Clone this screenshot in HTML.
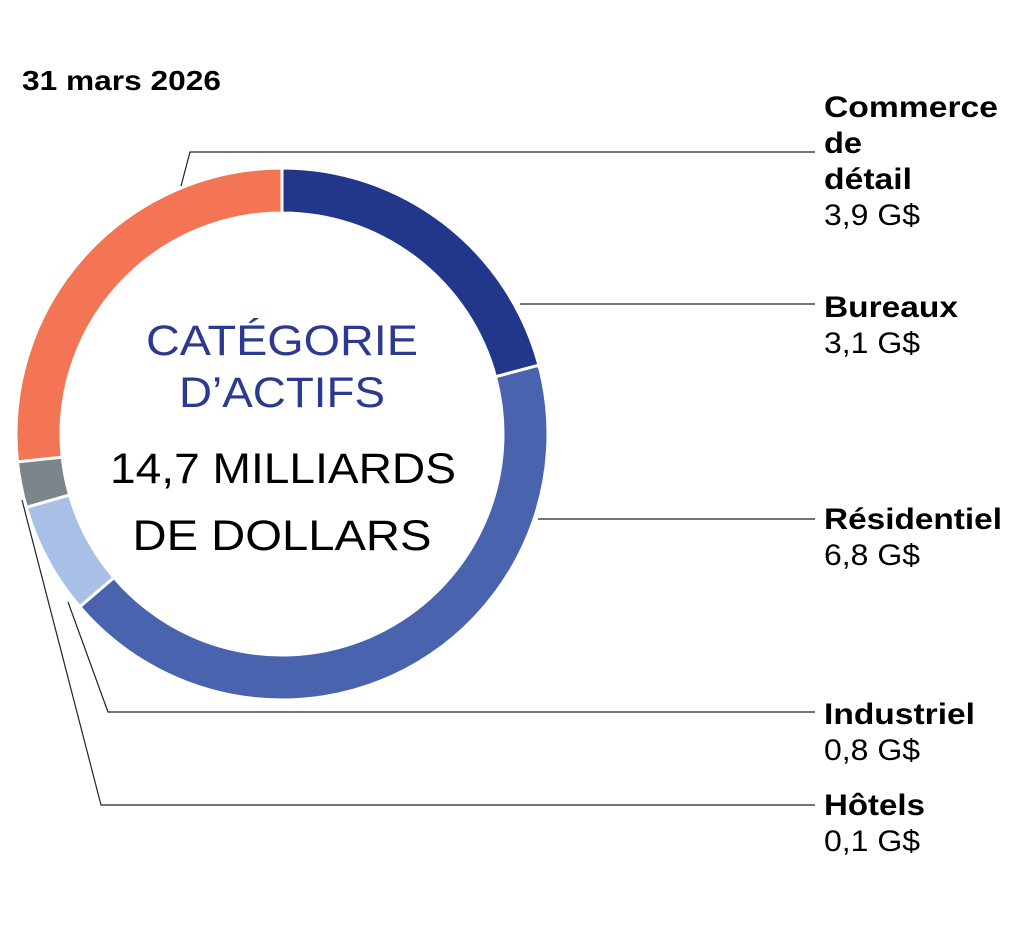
<!DOCTYPE html>
<html><head><meta charset="utf-8"><style>
html,body{margin:0;padding:0;background:#fff;}
svg{display:block;}
text{font-family:"Liberation Sans",Arial,sans-serif;}
</style></head><body>
<svg width="1024" height="947" viewBox="0 0 1024 947" xmlns="http://www.w3.org/2000/svg">
<g id="ring"></g>
<script>
(function(){
var cx=282,cy=434,R=266,r=221;
var segs=[[0,75,"#22368c"],[75,229.5,"#4a63ae"],[229.5,254,"#a9c0e6"],[254,264,"#7d858c"],[264,360,"#f37555"]];
var g=document.getElementById("ring");
function pt(a,rad){var t=a*Math.PI/180;return [cx+rad*Math.sin(t),cy-rad*Math.cos(t)];}
segs.forEach(function(s){
var a0=s[0],a1=s[1],lg=(a1-a0)>180?1:0;
var p1=pt(a0,R),p2=pt(a1,R),p3=pt(a1,r),p4=pt(a0,r);
var d="M"+p1+" A"+R+" "+R+" 0 "+lg+" 1 "+p2+" L"+p3+" A"+r+" "+r+" 0 "+lg+" 0 "+p4+" Z";
var p=document.createElementNS("http://www.w3.org/2000/svg","path");
p.setAttribute("d",d);p.setAttribute("fill",s[2]);p.setAttribute("stroke","#fff");p.setAttribute("stroke-width","3");
g.appendChild(p);
});
})();
</script>
<g stroke="#222" stroke-width="1.2" fill="none">
<polyline points="181,186 190,152 815,152"/>
<polyline points="520,304 815,304"/>
<polyline points="538,519 815,519"/>
<polyline points="68,602 108,712 815,712"/>
<polyline points="22,500 101,805 815,805"/>
</g>
<text x="22" y="90" font-size="28" font-weight="bold" fill="#000" textLength="199" lengthAdjust="spacingAndGlyphs">31 mars 2026</text>
<g font-size="30" fill="#000">
<text x="824" y="117" font-weight="bold" textLength="174" lengthAdjust="spacingAndGlyphs">Commerce</text>
<text x="824" y="153" font-weight="bold" textLength="38" lengthAdjust="spacingAndGlyphs">de</text>
<text x="824" y="189" font-weight="bold" textLength="88" lengthAdjust="spacingAndGlyphs">détail</text>
<text x="824" y="225" textLength="96" lengthAdjust="spacingAndGlyphs">3,9 G$</text>
<text x="824" y="317" font-weight="bold" textLength="134" lengthAdjust="spacingAndGlyphs">Bureaux</text>
<text x="824" y="353" textLength="96" lengthAdjust="spacingAndGlyphs">3,1 G$</text>
<text x="824" y="529" font-weight="bold" textLength="178" lengthAdjust="spacingAndGlyphs">Résidentiel</text>
<text x="824" y="565" textLength="96" lengthAdjust="spacingAndGlyphs">6,8 G$</text>
<text x="824" y="724" font-weight="bold" textLength="151" lengthAdjust="spacingAndGlyphs">Industriel</text>
<text x="824" y="760" textLength="96" lengthAdjust="spacingAndGlyphs">0,8 G$</text>
<text x="824" y="815" font-weight="bold" textLength="101" lengthAdjust="spacingAndGlyphs">Hôtels</text>
<text x="824" y="851" textLength="96" lengthAdjust="spacingAndGlyphs">0,1 G$</text>
</g>
<g text-anchor="middle" font-size="43">
<text x="282" y="355" fill="#2b3990" textLength="272" lengthAdjust="spacingAndGlyphs">CATÉGORIE</text>
<text x="282" y="407" fill="#2b3990" textLength="206" lengthAdjust="spacingAndGlyphs">D’ACTIFS</text>
<text x="283" y="483" fill="#000" textLength="346" lengthAdjust="spacingAndGlyphs">14,7 MILLIARDS</text>
<text x="282" y="550" fill="#000" textLength="299" lengthAdjust="spacingAndGlyphs">DE DOLLARS</text>
</g>
</svg>
</body></html>
